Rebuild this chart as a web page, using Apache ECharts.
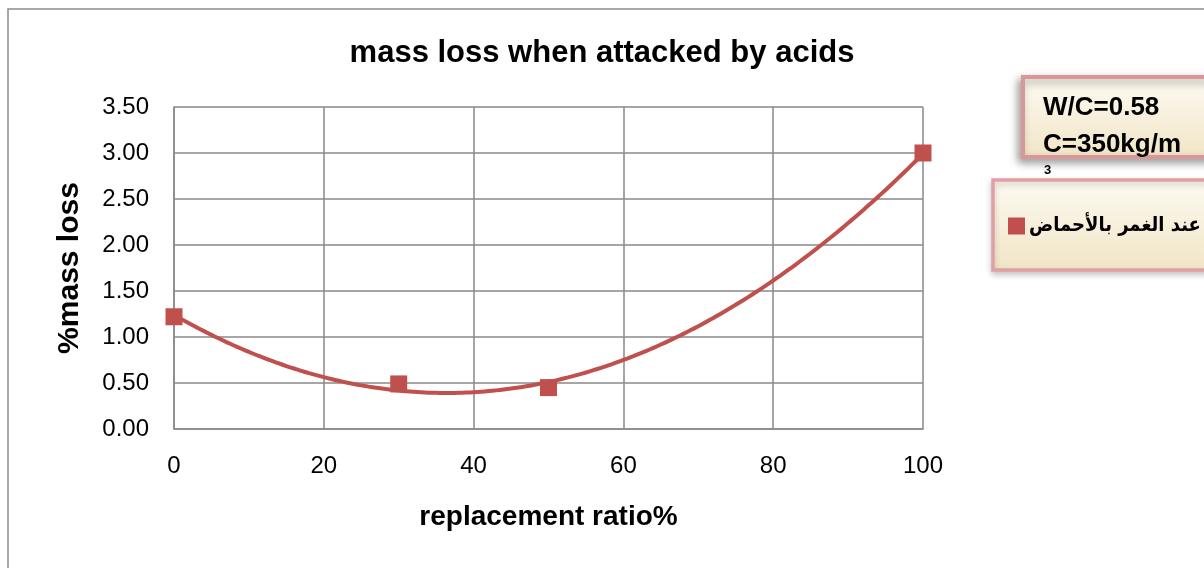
<!DOCTYPE html>
<html>
<head>
<meta charset="utf-8">
<script src="https://cdn.jsdelivr.net/npm/echarts@6/dist/echarts.min.js"></script>
<style>html,body{margin:0;padding:0;background:#fff;}#c{width:1204px;height:568px;}</style>
</head>
<body>
<div id="c"></div>
<script>
const titleText = 'mass loss when attacked by acids';
const xName = 'replacement ratio%';
const yName = '%mass loss';
const seriesName = 'عند الغمر بالأحماض';
const xValues = [0, 30, 50, 100];
const yValues = [1.22, 0.49, 0.45, 3.00];
const noteLine1 = 'W/C=0.58';
const noteLine2 = 'C=350kg/m';
const noteSup = '3';

// Least-squares order-2 polynomial trendline (as in the spreadsheet), fitted to the data
function fitQuadratic(xs, ys) {
  let n = xs.length, s = [0,0,0,0,0], t = [0,0,0];
  for (let i = 0; i < n; i++) {
    const x = xs[i], y = ys[i];
    for (let k = 0; k < 5; k++) s[k] += Math.pow(x, k);
    for (let k = 0; k < 3; k++) t[k] += Math.pow(x, k) * y;
  }
  const M = [[s[0], s[1], s[2], t[0]], [s[1], s[2], s[3], t[1]], [s[2], s[3], s[4], t[2]]];
  for (let i = 0; i < 3; i++) {
    for (let j = i + 1; j < 3; j++) {
      const f = M[j][i] / M[i][i];
      for (let k = i; k < 4; k++) M[j][k] -= f * M[i][k];
    }
  }
  const c = [0, 0, 0];
  for (let i = 2; i >= 0; i--) {
    let v = M[i][3];
    for (let k = i + 1; k < 3; k++) v -= M[i][k] * c[k];
    c[i] = v / M[i][i];
  }
  return c;
}
const coef = fitQuadratic(xValues, yValues);

const chart = echarts.init(document.getElementById('c'), null, {renderer: 'canvas'});
const gridColor = '#898989';
const red = '#C0504D';
const boxFill = new echarts.graphic.LinearGradient(0, 0, 0, 1, [
  {offset: 0, color: '#fdfaf2'}, {offset: 1, color: '#f1e5c6'}
]);
const boxFill2 = new echarts.graphic.LinearGradient(0, 0, 0, 1, [
  {offset: 0, color: '#fdfaf2'}, {offset: 1, color: '#f1e5c6'}
]);
const pts = xValues.map((x, i) => [x, yValues[i]]);
chart.setOption({
  animation: false,
  backgroundColor: '#fff',
  title: {
    text: titleText, left: 'center', top: 33,
    textStyle: {fontFamily: 'Liberation Sans', fontWeight: 'bold', fontSize: 31, color: '#000'}
  },
  grid: {left: 174, right: 281, top: 107, bottom: 139},
  xAxis: {
    type: 'value', min: 0, max: 100, interval: 20,
    name: xName, nameLocation: 'middle', nameGap: 74,
    nameTextStyle: {fontFamily: 'Liberation Sans', fontWeight: 'bold', fontSize: 28, color: '#000'},
    axisLine: {show: true, lineStyle: {color: gridColor, width: 1.5}},
    axisTick: {show: false},
    axisLabel: {margin: 25, fontFamily: 'Liberation Sans', fontSize: 24, color: '#000'},
    splitLine: {show: true, lineStyle: {color: gridColor, width: 1.5}}
  },
  yAxis: {
    type: 'value', min: 0, max: 3.5, interval: 0.5,
    name: yName, nameLocation: 'middle', nameGap: 89, nameRotate: 90,
    nameTextStyle: {fontFamily: 'Liberation Sans', fontWeight: 'bold', fontSize: 30, color: '#000'},
    axisLine: {show: true, lineStyle: {color: gridColor, width: 1.5}},
    axisTick: {show: false},
    axisLabel: {margin: 25, fontFamily: 'Liberation Sans', fontSize: 24, color: '#000',
      formatter: v => v.toFixed(2)},
    splitLine: {show: true, lineStyle: {color: gridColor, width: 1.5}}
  },
  legend: {
    left: 1003, top: 211, icon: 'rect', itemWidth: 17, itemHeight: 17, itemGap: 6,
    data: [seriesName],
    textStyle: {fontFamily: '"DejaVu Sans Condensed", "DejaVu Sans"', fontWeight: 'bold', fontSize: 20, color: '#000', padding: [0,0,0,-1]}
  },
  graphic: [
    {type: 'rect', z: -10, shape: {x: 8, y: 9, width: 1400, height: 800},
      style: {fill: null, stroke: '#8c8c8c', lineWidth: 1.5}},
    {type: 'rect', z: 1, shape: {x: 1023, y: 77, width: 300, height: 80},
      style: {fill: boxFill, stroke: '#d9979a', lineWidth: 4,
        shadowBlur: 8, shadowOffsetX: -3, shadowOffsetY: 4, shadowColor: 'rgba(0,0,0,0.35)'}},
    {type: 'text', z: 2, style: {x: 1043, y: 95, text: noteLine1, fill: '#000',
      font: 'bold 26px "Liberation Sans"'}},
    {type: 'text', z: 2, style: {x: 1043, y: 132, text: noteLine2, fill: '#000',
      font: 'bold 26px "Liberation Sans"'}},
    {type: 'text', z: 2, style: {x: 1044, y: 164, text: noteSup, fill: '#000',
      font: 'bold 13px "Liberation Sans"'}},
    {type: 'rect', z: 1, shape: {x: 993, y: 180, width: 300, height: 90},
      style: {fill: boxFill2, stroke: '#e0a0a3', lineWidth: 3.5,
        shadowBlur: 6, shadowOffsetX: 0, shadowOffsetY: 3, shadowColor: 'rgba(0,0,0,0.2)'}}
  ],
  series: [
    {
      name: 'trend', type: 'custom', silent: true, z: 2,
      data: [pts[0]],
      renderItem: function (params, api) {
        const x0 = Math.min.apply(null, xValues), x1 = Math.max.apply(null, xValues);
        const poly = [];
        for (let k = 0; k <= 200; k++) {
          const x = x0 + (x1 - x0) * k / 200;
          poly.push(api.coord([x, coef[0] + coef[1] * x + coef[2] * x * x]));
        }
        return {type: 'polyline', shape: {points: poly},
          style: {fill: null, stroke: red, lineWidth: 4, lineJoin: 'round'}};
      }
    },
    {
      name: seriesName, type: 'scatter', z: 3,
      data: pts,
      symbol: 'rect', symbolSize: 17,
      itemStyle: {color: red, opacity: 1}
    }
  ]
});
</script>
</body>
</html>
